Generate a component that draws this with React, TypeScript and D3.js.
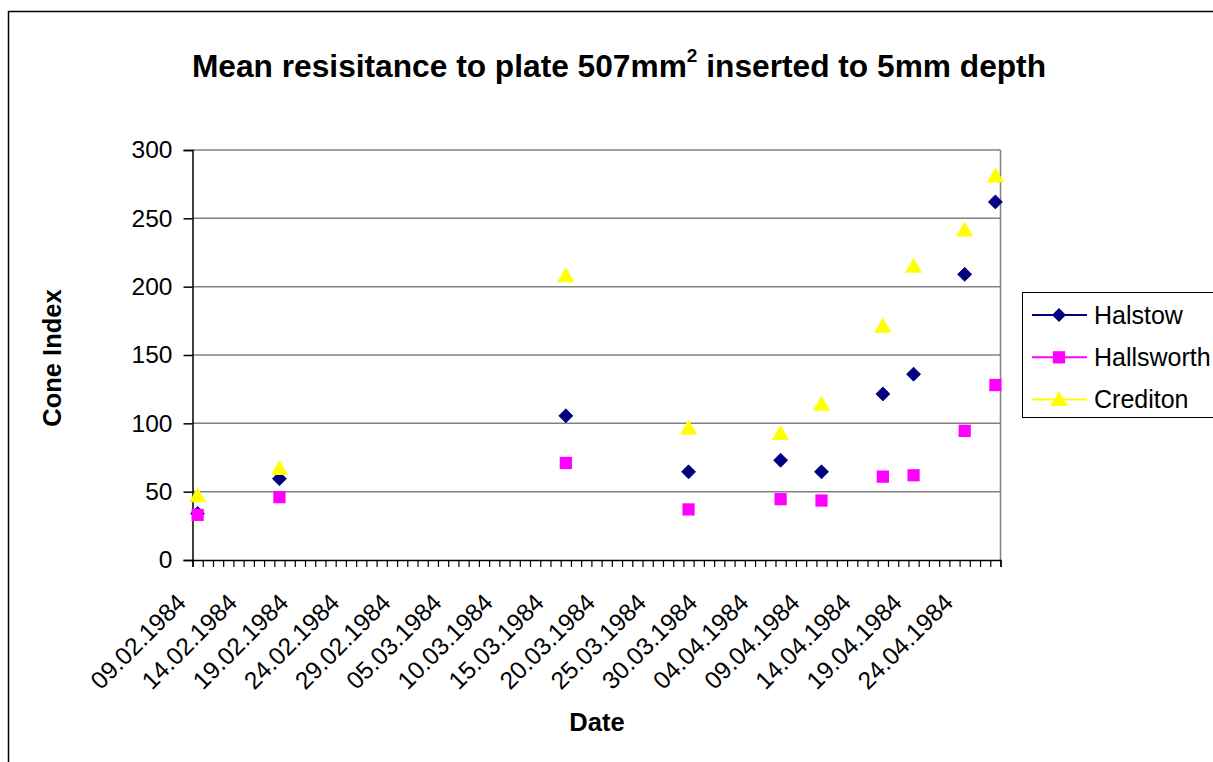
import React, { useEffect, useRef } from 'react'
import * as d3 from 'd3'

// measuring dates and mean cone index per site
const dates = ['09.02.1984', '17.02.1984', '16.03.1984', '28.03.1984', '06.04.1984', '10.04.1984', '16.04.1984', '19.04.1984', '24.04.1984', '27.04.1984']
const halstow = [34, 59.5, 105.5, 64.5, 73, 64.5, 121.5, 136, 209, 262]
const hallsworth = [33, 46, 71, 37, 44.5, 43.5, 61, 62, 94.5, 128]
const crediton = [47, 67, 208, 96.5, 92.5, 114, 171, 215, 241.5, 281]
const seriesNames = ['Halstow', 'Hallsworth', 'Crediton']
const yTicks = [0, 50, 100, 150, 200, 250, 300]
const axisStart = '09.02.1984'
const axisEnd = '28.04.1984'

const colors = ['#000080', '#FF00FF', '#FFFF00']
// excel diamond = square turned by 45deg
const shapes = [d3.symbolSquare, d3.symbolSquare, d3.symbolTriangle]
const turns = [45, 0, 0]
const sizes = [98, 150, 130]
const font = '"Liberation Sans", Arial, sans-serif'

export default function App() {
    const ref = useRef<SVGSVGElement | null>(null)
    const width = 1213
    const height = 762

    function drawChart() {
        const parse = d3.utcParse('%d.%m.%Y')
        const fmt = d3.utcFormat('%d.%m.%Y')
        const svg = d3.select(ref.current)
        svg.selectAll('*').remove()

        const x = d3.scaleUtc()
            .domain([parse(axisStart)!, parse(axisEnd)!])
            .range([192.5, 1000.5])
        const y = d3.scaleLinear().domain([0, 300]).range([560, 150])

        svg.append('rect').attr('width', width).attr('height', height).attr('fill', '#fff')
        // chart area border
        svg.append('rect')
            .attr('x', 8.5).attr('y', 11.5).attr('width', 1300).attr('height', 900)
            .attr('fill', 'none').attr('stroke', '#000').attr('stroke-width', 1.5)

        // title
        const title = svg.append('text')
            .attr('x', 619).attr('y', 77)
            .attr('text-anchor', 'middle')
            .style('font-family', font).style('font-weight', 'bold').style('font-size', '31.7px')
        title.append('tspan').text('Mean resisitance to plate 507mm')
        title.append('tspan').attr('dy', -15).style('font-size', '19px').text('2')
        title.append('tspan').attr('dy', 15).text(' inserted to 5mm depth')

        // gridlines
        svg.append('g').selectAll('line')
            .data(yTicks.filter(d => d > 0))
            .enter().append('line')
            .attr('x1', x.range()[0]).attr('x2', x.range()[1])
            .attr('y1', d => y(d)).attr('y2', d => y(d))
            .attr('stroke', '#808080').attr('stroke-width', 1.5)
        // plot area right edge
        svg.append('line')
            .attr('x1', x.range()[1]).attr('x2', x.range()[1])
            .attr('y1', y(300)).attr('y2', y(0))
            .attr('stroke', '#808080').attr('stroke-width', 1.5)

        // y axis
        const yAxis = d3.axisLeft(y).tickValues(yTicks).tickSize(9).tickPadding(11)
        const gy = svg.append('g').attr('transform', `translate(${x.range()[0]},0)`).call(yAxis)
        gy.select('.domain').attr('stroke', '#000').attr('stroke-width', 1.5)
        gy.selectAll('.tick line').attr('stroke', '#000').attr('stroke-width', 1.5)
        gy.selectAll('.tick text')
            .style('font-family', font).style('font-size', '24.5px').attr('fill', '#000')

        // x axis: a tick per day
        const start = parse(axisStart)!
        const end = parse(axisEnd)!
        const days = d3.utcDay.range(start, d3.utcDay.offset(end, 1))
        const xAxis = d3.axisBottom(x).tickValues(days).tickSize(7).tickFormat(() => '')
        const gx = svg.append('g').attr('transform', `translate(0,${y(0)})`).call(xAxis)
        gx.select('.domain').attr('stroke', '#000').attr('stroke-width', 1.5)
        gx.selectAll('.tick line').attr('stroke', '#000').attr('stroke-width', 1.2)

        svg.append('g').selectAll('text')
            .data(d3.utcDay.range(start, end, 5))
            .enter().append('text')
            .attr('transform', d => `translate(${x(d) - 5},604) rotate(-45)`)
            .attr('text-anchor', 'end')
            .style('font-family', font).style('font-size', '24.5px')
            .text(d => fmt(d))

        // axis titles
        svg.append('text')
            .attr('transform', 'translate(61,358) rotate(-90)')
            .attr('text-anchor', 'middle')
            .style('font-family', font).style('font-weight', 'bold').style('font-size', '25.5px')
            .text('Cone Index')
        svg.append('text')
            .attr('x', 597).attr('y', 731)
            .attr('text-anchor', 'middle')
            .style('font-family', font).style('font-weight', 'bold').style('font-size', '25.5px')
            .text('Date')

        // markers
        const allSeries = [halstow, hallsworth, crediton]
        allSeries.forEach((vals, i) => {
            const sym = d3.symbol().type(shapes[i]).size(sizes[i])
            svg.append('g').selectAll('path')
                .data(vals)
                .enter().append('path')
                .attr('d', sym)
                .attr('transform', (d, j) => {
                    const dt = d3.utcHour.offset(parse(dates[j])!, 12)
                    const cy = i === 2 ? y(d) + 1.5 : y(d)
                    return `translate(${x(dt)},${cy}) rotate(${turns[i]})`
                })
                .attr('fill', colors[i])
                .attr('stroke', i === 0 ? '#000080' : 'none')
                .attr('stroke-width', 0.8)
        })

        // legend
        const lg = svg.append('g')
        lg.append('rect')
            .attr('x', 1022.5).attr('y', 292.5).attr('width', 300).attr('height', 125)
            .attr('fill', '#fff').attr('stroke', '#000').attr('stroke-width', 1)
        seriesNames.forEach((name, i) => {
            const cy = 315 + i * 42.3
            lg.append('line')
                .attr('x1', 1032).attr('x2', 1087).attr('y1', cy).attr('y2', cy)
                .attr('stroke', colors[i]).attr('stroke-width', 2)
            lg.append('path')
                .attr('d', d3.symbol().type(shapes[i]).size(sizes[i])())
                .attr('transform', `translate(1059,${i === 2 ? cy + 1.5 : cy}) rotate(${turns[i]})`)
                .attr('fill', colors[i])
            lg.append('text')
                .attr('x', 1094).attr('y', cy)
                .attr('dy', '0.35em')
                .style('font-family', font).style('font-size', '25px')
                .text(name)
        })
    }

    useEffect(() => {
        drawChart()
    }, [])

    return (
        <div>
            <svg ref={ref} width={width} height={height}
                style={{ position: 'absolute', left: 0, top: 0, background: '#fff' }} />
        </div>
    )
}
